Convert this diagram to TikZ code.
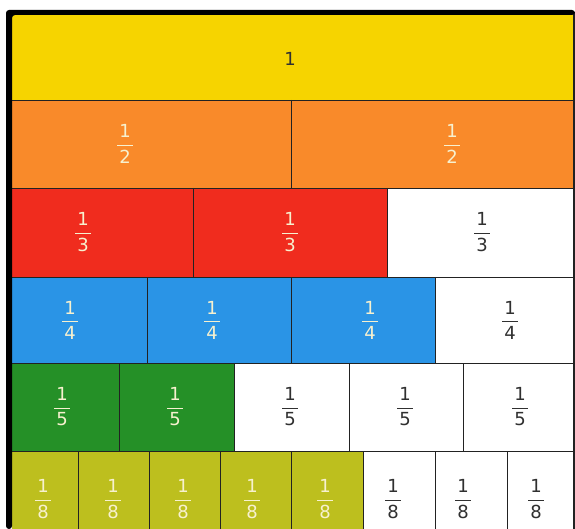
\documentclass[tikz,border=0pt]{standalone}
\usepackage{amsmath}
\usepackage{fontspec}
\setmainfont{DejaVu Sans}
\definecolor{cyel}{HTML}{F6D400}
\definecolor{cora}{HTML}{F98A2A}
\definecolor{cred}{HTML}{F02C1E}
\definecolor{cblu}{HTML}{2A94E6}
\definecolor{cgrn}{HTML}{259027}
\definecolor{cygr}{HTML}{BDBF1E}
\definecolor{ctxl}{HTML}{F7F1CF}
\definecolor{ctxd}{HTML}{303030}
\definecolor{cline}{HTML}{222222}
\newcommand\fr[2]{$\genfrac{}{}{1.3pt}{0}{\hbox{\kern2pt#1\kern2pt}}{\hbox{\kern2pt#2\kern2pt}}$}
\tikzset{
  cell/.style={draw=cline, line width=0.9pt},
  lab/.style={font=\fontsize{18}{18}\selectfont, inner sep=0pt},
  labl/.style={lab, text=ctxl},
  labd/.style={lab, text=ctxd}
}
\begin{document}
\begin{tikzpicture}[x=1pt,y=-1pt]
\useasboundingbox (0,0) rectangle (575,529);
\fill[white] (0,0) rectangle (575,529);
% row 1
\fill[cyel] (12,15) rectangle (574,100);
\node[lab, text=ctxd] (r1) at (290,59) {1};
% row 2
\fill[cora] (12,100) rectangle (574,188);
\node[labl] (h1) at (125,144) {\fr{1}{2}};
\node[labl] (h2) at (452,144) {\fr{1}{2}};
% row 3
\fill[cred] (12,188) rectangle (387,277);
\fill[white] (387,188) rectangle (574,277);
\node[labl] (t1) at (83,232) {\fr{1}{3}};
\node[labl] (t2) at (290,232) {\fr{1}{3}};
\node[labd] (t3) at (482,232) {\fr{1}{3}};
% row 4
\fill[cblu] (12,277) rectangle (435,363);
\fill[white] (435,277) rectangle (574,363);
\node[labl] (q1) at (70,320) {\fr{1}{4}};
\node[labl] (q2) at (212,320) {\fr{1}{4}};
\node[labl] (q3) at (370,320) {\fr{1}{4}};
\node[labd] (q4) at (510,320) {\fr{1}{4}};
% row 5
\fill[cgrn] (12,363) rectangle (234,451);
\fill[white] (234,363) rectangle (574,451);
\node[labl] (f1) at (62,407) {\fr{1}{5}};
\node[labl] (f2) at (175,407) {\fr{1}{5}};
\node[labd] (f3) at (290,407) {\fr{1}{5}};
\node[labd] (f4) at (405,407) {\fr{1}{5}};
\node[labd] (f5) at (520,407) {\fr{1}{5}};
% row 6
\fill[cygr] (12,451) rectangle (363,529);
\fill[white] (363,451) rectangle (574,529);
\node[labl] (e1) at (43,499) {\fr{1}{8}};
\node[labl] (e2) at (113,499) {\fr{1}{8}};
\node[labl] (e3) at (183,499) {\fr{1}{8}};
\node[labl] (e4) at (252,499) {\fr{1}{8}};
\node[labl] (e5) at (325,499) {\fr{1}{8}};
\node[labd] (e6) at (393,499) {\fr{1}{8}};
\node[labd] (e7) at (463,499) {\fr{1}{8}};
\node[labd] (e8) at (536,499) {\fr{1}{8}};
% grid lines
\draw[cell] (12,100) -- (574,100);
\draw[cell] (12,188) -- (574,188);
\draw[cell] (12,277) -- (574,277);
\draw[cell] (12,363) -- (574,363);
\draw[cell] (12,451) -- (574,451);
\draw[cell] (291,100) -- (291,188);
\draw[cell] (193,188) -- (193,277) (387,188) -- (387,277);
\draw[cell] (147,277) -- (147,363) (291,277) -- (291,363) (435,277) -- (435,363);
\draw[cell] (119,363) -- (119,451) (234,363) -- (234,451) (349,363) -- (349,451) (463,363) -- (463,451);
\foreach \x in {78,149,220,291,363,435,507} \draw[cell] (\x,451) -- (\x,529);
\draw[cline, line width=1.2pt] (574,12) -- (574,529);
% outer black border
\fill[black, rounded corners=3pt] (6,10) -- (575,10) -- (575,15) -- (12,15) -- (12,529) -- (6,529) -- cycle;
\end{tikzpicture}
\end{document}
